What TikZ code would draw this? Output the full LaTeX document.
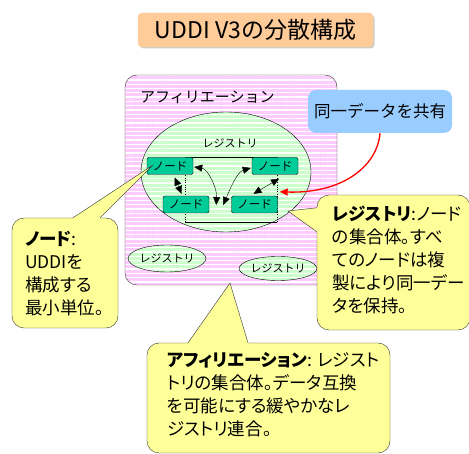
\documentclass[tikz,border=0pt]{standalone}
\usepackage{fontspec}
\setmainfont{Noto Sans CJK JP}[RawFeature=+palt]
\newfontfamily\fullkana{Noto Sans CJK JP}
\usetikzlibrary{positioning,calc,shapes.geometric,arrows.meta,patterns.meta,shadows}

\definecolor{titleorange}{HTML}{FFCC99}
\definecolor{afpink}{HTML}{FFCCFF}
\definecolor{reggreen}{HTML}{CCFFCC}
\definecolor{nodeteal}{HTML}{00CC99}
\definecolor{callyellow}{HTML}{FFFF99}
\definecolor{shareblue}{HTML}{99CCFF}

\tikzset{
	stripes/.style={preaction={fill=#1}, preaction={pattern={Lines[angle=0,distance=4.3pt,line width=1.3pt]}, pattern color=white}},
	nodebox/.style={draw, fill=nodeteal, rounded corners=2pt, minimum width=46pt, minimum height=17pt, inner sep=0pt, font=\fullkana\fontsize{11.5}{12}\selectfont},
	regsmall/.style={draw, ellipse, stripes=reggreen, inner sep=0pt, font=\fullkana\fontsize{11}{12}\selectfont},
	callbox/.style={draw=black!80, fill=callyellow, rounded corners=12pt, inner sep=0pt},
	calltext/.style={anchor=west, align=left, inner sep=0pt, font=\fontsize{17.5}{23}\selectfont},
}

\begin{document}
\begin{tikzpicture}[x=1pt, y=-1pt, >={Triangle[length=8pt,width=7pt]}]
	\useasboundingbox (0,0) rectangle (469,454);

	\node[draw=orange!40, fill=titleorange, rounded corners=4pt, minimum width=235pt, minimum height=34pt,
		drop shadow={shadow xshift=1.5pt, shadow yshift=-1.5pt, fill=black!40},
		font=\fullkana\fontsize{23}{24}\selectfont] (title) at (255.5,30) {UDDI V3の分散構成};

	% affiliation
	\node[draw=black!80, rounded corners=12pt, stripes=afpink, minimum width=212pt, minimum height=210pt, inner sep=0pt] (affil) at (231,180) {};
	\node[font=\fullkana\fontsize{15}{16}\selectfont, anchor=west, inner sep=0pt] (aflabel) at (140,97) {アフィリエーション};

	% registry
	\node[draw, ellipse, stripes=reggreen, minimum width=170pt, minimum height=120pt, inner sep=0pt] (regbig) at (226,172) {};
	\node[font=\fullkana\fontsize{11}{12}\selectfont, inner sep=0pt] (reglabel) at (230,143) {レジストリ};
	\draw[line width=0.3pt] (185,157) -- (277,157) (185,222) -- (277,222);
	\draw[line width=0.3pt, dotted] (185,157) -- (185,222) (277,157) -- (277,222);

	\node[nodebox] (n1) at (170,166) {ノード};
	\node[nodebox] (n2) at (275,166) {ノード};
	\node[nodebox] (n3) at (186,204.5) {ノード};
	\node[nodebox] (n4) at (254.5,204.5) {ノード};

	\coordinate (m1) at ($(n3.east)+(7,0.5)$);
	\coordinate (m2) at ($(n3.east)+(14,0.5)$);
	\draw[<->, shorten <=3pt, shorten >=2pt] (n1) -- (n3);
	\draw[<->] ($(n2.south)+(4,4)$) -- ($(n4.north)+(-1,-2)$);
	\draw[<->] ($(n1.east)+(1,1)$) .. controls +(14,2) and +(1,-16) .. (m1);
	\draw[<->] ($(n2.west)+(-1,2)$) .. controls +(-14,4) and +(6,-14) .. (m2);

	\node[regsmall, minimum width=75pt, minimum height=27pt] (regleft) at (167,258.5) {レジストリ};
	\node[regsmall, minimum width=70pt, minimum height=24pt] (regright) at (278,268.5) {レジストリ};

	% shared data
	\node[fill=shareblue, rounded corners=8pt, minimum width=144pt, minimum height=43pt, inner sep=0pt,
		font=\fullkana\fontsize{16.5}{18}\selectfont] (share) at (380,111.5) {同一データを共有};
	\coordinate (redtip) at ($(n4.north east)+(2,-4)$);
	\draw[->, red, line width=1.3pt] (share.south) .. controls +(-3,35) and +(60,2) .. (redtip);

	% callouts
	\node[callbox, minimum width=106pt, minimum height=110pt] (ndcall) at (65,273) {};
	\coordinate (ndtip) at (153,165);
	\fill[callyellow] ($(ndcall.north)+(8,0)$) -- (ndtip) -- ($(ndcall.north)+(35,0)$) -- ++(0,4) -- ($(ndcall.north)+(8,4)$) -- cycle;
	\draw[black!80] ($(ndcall.north)+(8,0)$) -- (ndtip) -- ($(ndcall.north)+(35,0)$);
	\node[calltext] (ndtext) at (25,273.5) {\textbf{ノード}:\\UDDIを\\構成する\\最小単位。};

	\node[callbox, minimum width=153pt, minimum height=135pt] (rgcall) at (393.5,262.5) {};
	\coordinate (rgtip) at (288,211);
	\fill[callyellow] ($(rgcall.north west)+(0,13)$) -- (rgtip) -- ($(rgcall.north west)+(0,37)$) -- ++(4,0) -- ($(rgcall.north west)+(4,13)$) -- cycle;
	\draw[black!80] ($(rgcall.north west)+(0,13)$) -- (rgtip) -- ($(rgcall.north west)+(0,37)$);
	\node[calltext] (rgtext) at (332,260) {\textbf{レジストリ}:ノード\\の集合体。すべ\\てのノードは複\\製により同一デー\\タを保持。};

	\node[callbox, minimum width=243pt, minimum height=110pt] (afcall) at (268.5,398) {};
	\coordinate (aftip) at (230,283);
	\fill[callyellow] ($(afcall.north)+(-80.5,0)$) -- (aftip) -- ($(afcall.north)+(-20.5,0)$) -- ++(0,4) -- ($(afcall.north)+(-80.5,4)$) -- cycle;
	\draw[black!80] ($(afcall.north)+(-80.5,0)$) -- (aftip) -- ($(afcall.north)+(-20.5,0)$);
	\node[calltext] (aftext) at (167,395) {\textbf{アフィリエーション}: レジスト\\トリの集合体。データ互換\\を可能にする緩やかなレ\\ジストリ連合。};
\end{tikzpicture}
\end{document}
